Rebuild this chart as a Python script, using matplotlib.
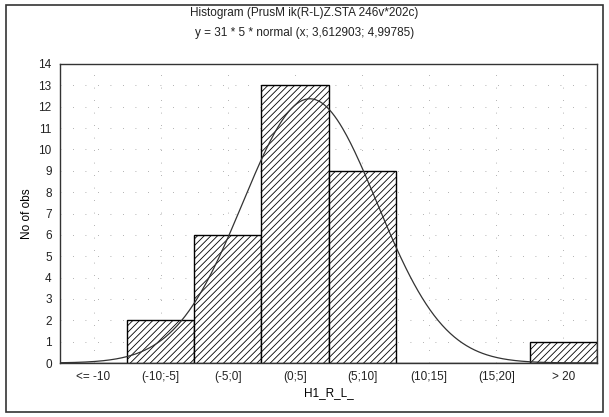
import matplotlib.pyplot as plt
import numpy as np
from matplotlib.patches import Rectangle

CATEGORIES = ["<= -10", "(-10;-5]", "(-5;0]", "(0;5]", "(5;10]", "(10;15]", "(15;20]", "> 20"]
BIN_LEFT = [-15, -10, -5, 0, 5, 10, 15, 20]
COUNTS = [0, 2, 6, 13, 9, 0, 0, 1]
N_OBS = 31
BIN_WIDTH = 5
MEAN = 3.612903
STD = 4.99785

TITLE_1 = "Histogram (PrusM ik(R-L)Z.STA 246v*202c)"
TITLE_2 = "y = 31 * 5 * normal (x; 3,612903; 4,99785)"

plt.rcParams["font.family"] = ["Liberation Sans", "DejaVu Sans"]
plt.rcParams["hatch.linewidth"] = 0.6


def main():
    fig = plt.figure(figsize=(6.09, 4.17), dpi=100)
    fig.patch.set_facecolor("white")
    fig.patches.append(Rectangle((6 / 609, 5 / 417), 597 / 609, 407 / 417,
                                 transform=fig.transFigure, fill=False,
                                 edgecolor="#333333", linewidth=1.2))

    ax = fig.add_axes([60 / 609, 54 / 417, 537 / 609, 299 / 417])

    ax.bar(BIN_LEFT, COUNTS, width=BIN_WIDTH, align="edge", facecolor="white",
           edgecolor="black", hatch="/////", linewidth=1.0, zorder=2)

    x = np.linspace(-15, 25, 400)
    y = N_OBS * BIN_WIDTH * np.exp(-0.5 * ((x - MEAN) / STD) ** 2) / (STD * np.sqrt(2 * np.pi))
    ax.plot(x, y, color="#333333", linewidth=0.9, zorder=3)

    ax.set_xlim(-15, 25)
    ax.set_ylim(0, 14)
    ax.set_yticks(range(0, 15))
    centers = [b + BIN_WIDTH / 2 for b in BIN_LEFT]
    ax.set_xticks(centers)
    ax.set_xticklabels(CATEGORIES)
    ax.tick_params(axis="both", labelsize=8.5, colors="#222222", length=0, pad=6)
    ax.set_ylabel("No of obs", fontsize=8.5, labelpad=4)
    ax.set_xlabel("H1_R_L_", fontsize=8.5, labelpad=3)

    ax.grid(True, color="#999999", linewidth=0.6, linestyle=(0, (1, 14)), zorder=0)
    for s in ax.spines.values():
        s.set_color("#333333")
        s.set_linewidth(1.0)

    fig.text(0.5, 1 - 13 / 417, TITLE_1, ha="center", va="center", fontsize=8.5, color="#222222")
    fig.text(0.5, 1 - 33 / 417, TITLE_2, ha="center", va="center", fontsize=8.5, color="#222222")

    fig.savefig("out.png", dpi=100)


if __name__ == "__main__":
    main()
